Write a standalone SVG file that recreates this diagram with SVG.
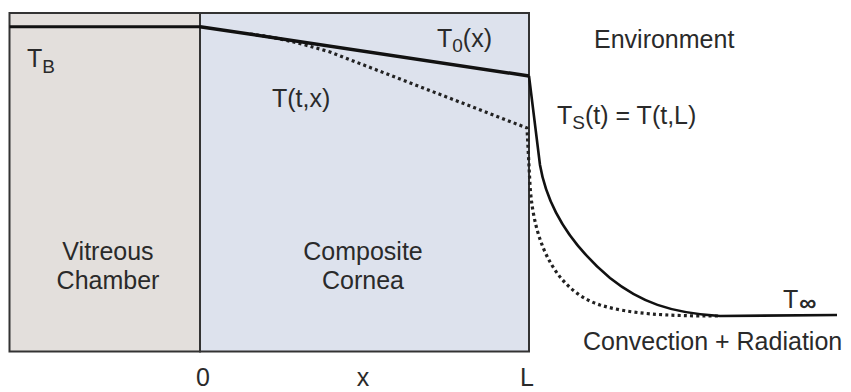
<svg xmlns="http://www.w3.org/2000/svg" width="851" height="392" viewBox="0 0 851 392">
<style>
  text { font-family: "Liberation Sans", Arial, sans-serif; font-size: 25px; fill: #2a2a2a; }
  .sub { font-size: 19px; }
  .box { stroke: #333; stroke-width: 2; }
  .solid { fill: none; stroke: #111; stroke-linejoin: round; }
  .dot { fill: none; stroke: #222; stroke-width: 3.2; stroke-dasharray: 3 3.2; }
</style>
<rect width="851" height="392" fill="#ffffff"/>
<g id="vitreous">
  <rect class="box" x="9.5" y="13" width="190.5" height="338.5" fill="#e3dfdc"/>
  <text x="108" y="260" text-anchor="middle">Vitreous</text>
  <text x="108" y="289" text-anchor="middle">Chamber</text>
</g>
<g id="cornea">
  <rect class="box" x="200" y="13" width="329" height="338.5" fill="#dde2ed"/>
  <text x="363" y="260" text-anchor="middle">Composite</text>
  <text x="363" y="289" text-anchor="middle">Cornea</text>
</g>
<g id="curves">
  <line class="solid" x1="9.5" y1="26.7" x2="200" y2="26.7" stroke-width="3"/>
  <path class="dot" d="M250,34 C275,37 300,43 330,52 L527,128 L530,185 C534,250 560,292 600,305 C630,314 665,316 720,316"/>
  <path class="solid" stroke-width="3.5" d="M200,26.7 L529,76"/>
  <path class="solid" stroke-width="2.6" d="M529,76 L540,165 C546,200 565,240 610,278 C640,302 670,313 720,316 L837,315"/>
</g>
<g id="labels">
  <text x="27" y="67">T<tspan class="sub" dy="6">B</tspan></text>
  <text x="437" y="47">T<tspan class="sub" dy="5">0</tspan><tspan dy="-5">(x)</tspan></text>
  <text x="272" y="107">T(t,x)</text>
  <text x="594" y="48">Environment</text>
  <text x="557" y="124">T<tspan class="sub" dy="5">S</tspan><tspan dy="-5">(t) = T(t,L)</tspan></text>
  <text x="783" y="308">T<tspan dx="1" dy="3" style="font-size:24px;font-weight:bold">∞</tspan></text>
  <text x="583" y="350">Convection + Radiation</text>
  <text x="203" y="386" text-anchor="middle">0</text>
  <text x="363" y="386" text-anchor="middle">x</text>
  <text x="527" y="386" text-anchor="middle">L</text>
</g>
</svg>
